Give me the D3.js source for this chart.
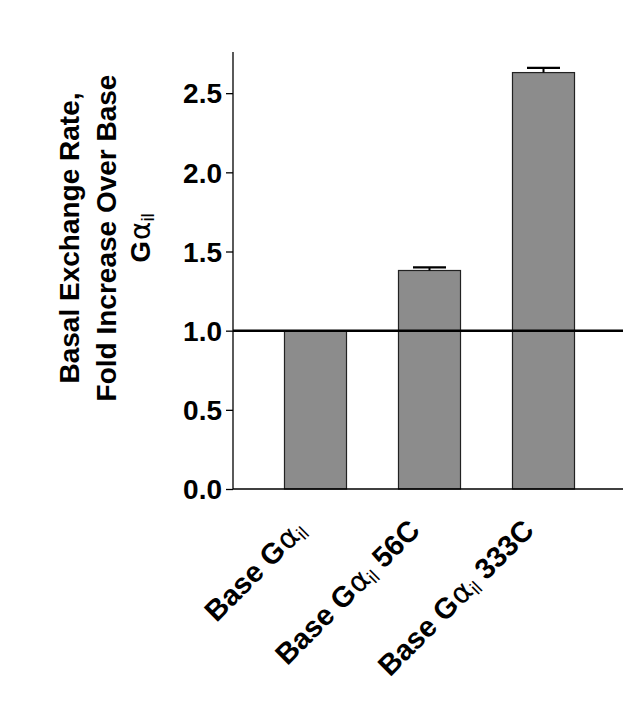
<!DOCTYPE html>
<html>
<head>
<meta charset="utf-8">
<script src="https://cdn.jsdelivr.net/npm/d3@7"></script>
<style>
  body { margin: 0; background: #fff; }
  text { font-family: 'Liberation Sans', Arial, sans-serif; font-weight: bold; fill: #000; }
</style>
</head>
<body>
<div id="chart"></div>
<script>
const categories = ['Base', 'Base 56C', 'Base 333C']
const suffixes = ['', ' 56C', ' 333C']
const values = [1.0, 1.38, 2.63]
const errors = [0, 0.02, 0.03]
const yTicks = [0.0, 0.5, 1.0, 1.5, 2.0, 2.5]
const refValue = 1.0
const yLabelLines = ['Basal Exchange Rate,', 'Fold Increase Over Base']

const width = 623
const height = 706
const axisX = 233
const axisRight = 623
const fontSize = 28

const svg = d3
  .select('#chart')
  .append('svg')
  .attr('width', width)
  .attr('height', height)

const y = d3
  .scaleLinear()
  .domain([0, 2.76])
  .range([489, 52])

const x = d3
  .scaleBand()
  .domain(categories)
  .range([258.5, 600.5])
  .paddingInner(0.456)
  .paddingOuter(0.228)

// bars
svg
  .selectAll('rect.bar')
  .data(values)
  .enter()
  .append('rect')
  .attr('class', 'bar')
  .attr('x', (d, i) => x(categories[i]))
  .attr('width', x.bandwidth())
  .attr('y', d => y(d))
  .attr('height', d => y(0) - y(d))
  .attr('fill', '#8c8c8c')
  .attr('stroke', '#222')
  .attr('stroke-width', 1.2)

// error bars (upper only)
const capW = 33
values.forEach((v, i) => {
  if (!errors[i]) return
  const cx = x(categories[i]) + x.bandwidth() / 2
  svg.append('line')
    .attr('x1', cx).attr('x2', cx)
    .attr('y1', y(v)).attr('y2', y(v + errors[i]))
    .attr('stroke', '#000').attr('stroke-width', 2)
  svg.append('line')
    .attr('x1', cx - capW / 2).attr('x2', cx + capW / 2)
    .attr('y1', y(v + errors[i])).attr('y2', y(v + errors[i]))
    .attr('stroke', '#000').attr('stroke-width', 2.2)
})

// y axis
const yAxis = d3.axisLeft(y)
  .tickValues(yTicks)
  .tickFormat(d3.format('.1f'))
  .tickSize(7)
  .tickPadding(4)
const gy = svg.append('g')
  .attr('transform', 'translate(' + axisX + ',0)')
  .call(yAxis)
gy.select('.domain').remove()
gy.selectAll('.tick line').attr('stroke', '#000').attr('stroke-width', 1.3)
gy.selectAll('.tick text')
  .style('font-size', fontSize + 'px')
  .style('font-weight', 'bold')
  .style('font-family', "'Liberation Sans', Arial, sans-serif")
  .attr('fill', '#000')
  .attr('dy', '0.35em')
svg.append('line')
  .attr('x1', axisX).attr('x2', axisX)
  .attr('y1', y(2.76)).attr('y2', y(0))
  .attr('stroke', '#000').attr('stroke-width', 1.3)

// x axis line
svg.append('line')
  .attr('x1', axisX).attr('x2', axisRight)
  .attr('y1', y(0)).attr('y2', y(0))
  .attr('stroke', '#000').attr('stroke-width', 1.5)

// reference line at 1.0
svg.append('line')
  .attr('x1', axisX).attr('x2', axisRight)
  .attr('y1', y(refValue)).attr('y2', y(refValue))
  .attr('stroke', '#000').attr('stroke-width', 2.5)

// G-alpha-il helper
function gAlpha(sel, prefix) {
  sel.append('tspan').text(prefix + 'G')
  sel.append('tspan').text('α').style('font-weight', 'normal')
    .style('font-family', "'DejaVu Sans', sans-serif").attr('dx', 1)
  sel.append('tspan').text('il').attr('dy', 4).style('font-size', '19px').style('font-weight', 'normal')
}

// x labels
categories.forEach((c, i) => {
  const cx = x(c) + x.bandwidth() / 2
  const t = svg.append('text')
    .attr('transform', 'translate(' + (cx - 8) + ',' + 532 + ') rotate(-45)')
    .attr('text-anchor', 'end')
    .style('font-size', '29px')
  gAlpha(t, 'Base ')
  if (suffixes[i]) t.append('tspan').text(suffixes[i]).attr('dy', -4)
})

// y label
const yl = svg.append('g').attr('transform', 'translate(0,238) rotate(-90)')
const lineX = [79, 116]
yLabelLines.forEach((s, i) => {
  yl.append('text').attr('x', 0).attr('y', lineX[i]).attr('text-anchor', 'middle')
    .style('font-size', fontSize + 'px').text(s)
})
const l3 = yl.append('text').attr('x', 0).attr('y', 150).attr('text-anchor', 'middle')
  .style('font-size', fontSize + 'px')
gAlpha(l3, '')
</script>
</body>
</html>
